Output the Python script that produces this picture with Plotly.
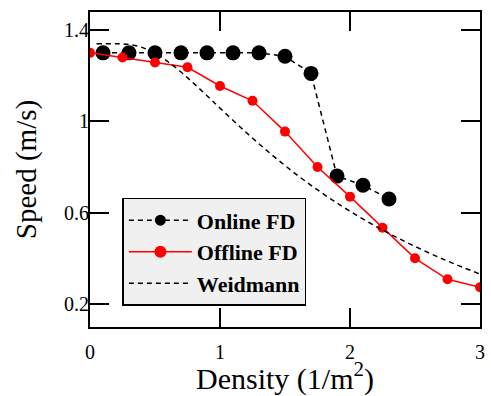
import plotly.graph_objects as go

online_x = [0.1, 0.3, 0.5, 0.7, 0.9, 1.1, 1.3, 1.5, 1.7, 1.9, 2.1, 2.3]
online_v = [1.30, 1.30, 1.30, 1.30, 1.30, 1.30, 1.30, 1.285, 1.21, 0.76, 0.72, 0.66]

offline_x = [0, 0.25, 0.5, 0.75, 1.0, 1.25, 1.5, 1.75, 2.0, 2.25, 2.5, 2.75, 3.0]
offline_v = [1.30, 1.28, 1.258, 1.237, 1.155, 1.09, 0.955, 0.80, 0.67, 0.534, 0.40, 0.308, 0.273]

weid_x = [0.05, 0.2, 0.3, 0.4, 0.5, 0.6, 0.7, 0.8, 0.9, 1.0, 1.2, 1.4, 1.6, 1.8, 2.0, 2.25, 2.5, 2.75, 3.0]
weid_v = [1.34, 1.34, 1.337, 1.324, 1.298, 1.261, 1.216, 1.165, 1.112, 1.058, 0.952, 0.853, 0.762, 0.680, 0.606, 0.524, 0.452, 0.388, 0.331]

x_ticks = [0, 1, 2, 3]
y_ticks = [0.2, 0.6, 1.0, 1.4]
y_tick_labels = ["0.2", "0.6", "1", "1.4"]
legend_names = ["Online FD", "Offline FD", "Weidmann"]

serif = "Liberation Serif, Times New Roman, serif"
RED = "#ff0000"
DASH = "5px,4px"

fig = go.Figure()
# data traces
fig.add_trace(go.Scatter(
    x=online_x, y=online_v, mode="lines+markers", showlegend=False,
    line=dict(color="black", width=1.5, dash=DASH),
    marker=dict(color="black", size=15),
))
fig.add_trace(go.Scatter(
    x=offline_x, y=offline_v, mode="lines+markers", showlegend=False,
    line=dict(color=RED, width=1.5),
    marker=dict(color=RED, size=10),
))
fig.add_trace(go.Scatter(
    x=weid_x, y=weid_v, mode="lines", showlegend=False,
    line=dict(color="black", width=1.5, dash=DASH, shape="spline"),
))
# legend entries (smaller symbols as in the reference)
fig.add_trace(go.Scatter(
    x=[None], y=[None], mode="lines+markers", name="<b>%s</b>" % legend_names[0],
    line=dict(color="black", width=1.5, dash=DASH), marker=dict(color="black", size=11),
))
fig.add_trace(go.Scatter(
    x=[None], y=[None], mode="lines+markers", name="<b>%s</b>" % legend_names[1],
    line=dict(color=RED, width=1.5), marker=dict(color=RED, size=12),
))
fig.add_trace(go.Scatter(
    x=[None], y=[None], mode="lines", name="<b>%s</b>" % legend_names[2],
    line=dict(color="black", width=1.5, dash=DASH),
))

fig.update_layout(
    width=491, height=396,
    margin=dict(l=90, r=6, t=12, b=69),
    paper_bgcolor="white", plot_bgcolor="white",
    font=dict(family=serif, color="black", size=20),
    showlegend=True,
    legend=dict(
        x=0.083, y=0.41, xanchor="left", yanchor="top",
        bgcolor="#f0f0f0", bordercolor="black", borderwidth=1.5,
        font=dict(family=serif, size=22, color="black"),
        tracegroupgap=0, itemwidth=63,
    ),
)
fig.update_xaxes(
    range=[0, 3], tickvals=x_ticks, ticktext=[str(t) for t in x_ticks],
    ticks="inside", ticklen=19, tickwidth=1.5, tickcolor="black",
    showline=True, linecolor="black", linewidth=2, mirror="all",
    showgrid=False, zeroline=False, ticklabelstandoff=6,
    tickfont=dict(family=serif, size=20),
    title=dict(text="Density (1/m<sup>2</sup>)", font=dict(family=serif, size=30), standoff=6),
)
fig.update_yaxes(
    range=[0.099, 1.479], tickvals=y_ticks, ticktext=y_tick_labels,
    ticks="inside", ticklen=19, tickwidth=1.5, tickcolor="black",
    showline=True, linecolor="black", linewidth=2, mirror="all",
    showgrid=False, zeroline=False, ticklabelstandoff=-5,
    tickfont=dict(family=serif, size=20),
    title=dict(text="Speed (m/s)", font=dict(family=serif, size=29), standoff=19),
)
fig.write_html("out.html")
